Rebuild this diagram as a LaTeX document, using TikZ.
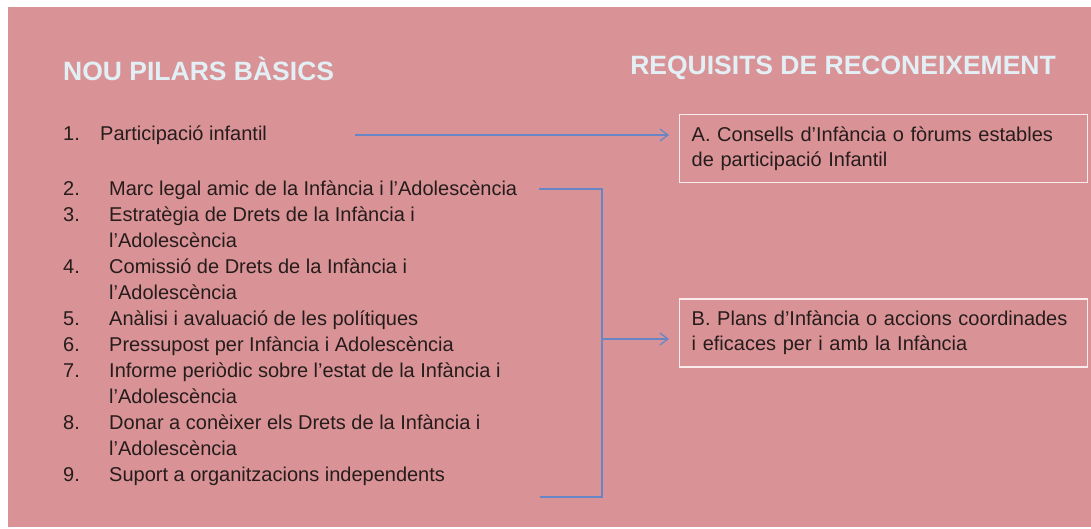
\documentclass[tikz,border=0pt]{standalone}
\usepackage{fontspec}
\setmainfont{Liberation Sans}
\usetikzlibrary{positioning,arrows.meta}
\definecolor{slidepink}{RGB}{217,147,150}
\definecolor{headblue}{RGB}{226,240,246}
\definecolor{bodytext}{RGB}{38,28,28}
\definecolor{linkblue}{RGB}{104,134,196}
\definecolor{boxline}{RGB}{250,236,236}

\begin{document}
\begin{tikzpicture}[x=1pt,y=-1pt,
    head/.style={inner sep=0pt, font=\fontsize{26.5}{30}\selectfont\bfseries, text=headblue},
    pilar/.style={anchor=north west, yshift=18.2pt, inner sep=0pt, align=left,
      font=\fontsize{20}{26}\selectfont, text=bodytext},
    num/.style={pilar},
    reqbox/.style={draw=boxline, line width=1.3pt, text width=384pt, inner xsep=12pt,
      minimum height=68pt, align=left, font=\fontsize{20}{24.5}\selectfont, text=bodytext},
    wire/.style={draw=linkblue, line width=1.3pt},
    link/.style={wire, -{Straight Barb[length=8pt,width=12pt]}, shorten >=10pt}]
  % background
  \useasboundingbox (0,0) rectangle (1091,529);
  \fill[slidepink] (8,7) rectangle (1091,527);

  % titles
  \node[head, anchor=base west] (pilars) at (63,81) {NOU PILARS BÀSICS};
  \node[head, anchor=base east] (requisits) at (1056,75) {REQUISITS DE RECONEIXEMENT};

  % pilars
  \node[num] (n1) at (63,140) {\strut 1.};
  \node[pilar] (p1) at (100,140) {\strut Participació infantil};
  \foreach \y/\n/\t in {
      195/2/{Marc legal amic de la Infància i l'Adolescència},
      221/3/{Estratègia de Drets de la Infància i\\l'Adolescència},
      273/4/{Comissió de Drets de la Infància i\\l'Adolescència},
      325/5/{Anàlisi i avaluació de les polítiques},
      351/6/{Pressupost per Infància i Adolescència},
      377/7/{Informe periòdic sobre l'estat de la Infància i\\l'Adolescència},
      429/8/{Donar a conèixer els Drets de la Infància i\\l'Adolescència},
      481/9/{Suport a organitzacions independents}}{
    \node[num] (n\n) at (63,\y) {\strut\n.};
    \node[pilar] (p\n) at (109,\y) {\strut\t};
  }

  % requisits
  \node[reqbox, anchor=north west] (reqA) at (679,114)
    {A. Consells d'Infància o fòrums estables\\de participació Infantil};
  \node[reqbox, below=115pt of reqA] (reqB)
    {B. Plans d'Infància o accions coordinades\\i eficaces per i amb la Infància};

  % connectors
  \coordinate (a1) at (355,135);
  \draw[link] (a1) -- (a1 -| reqA.west);
  \coordinate (brtop) at (539,189);
  \coordinate (brbot) at (540,497);
  \coordinate (spine) at (602,339);
  \draw[wire] (brtop) -- (brtop -| spine) -- (brbot -| spine) -- (brbot);
  \draw[link] (spine) -- (spine -| reqB.west);
\end{tikzpicture}
\end{document}
